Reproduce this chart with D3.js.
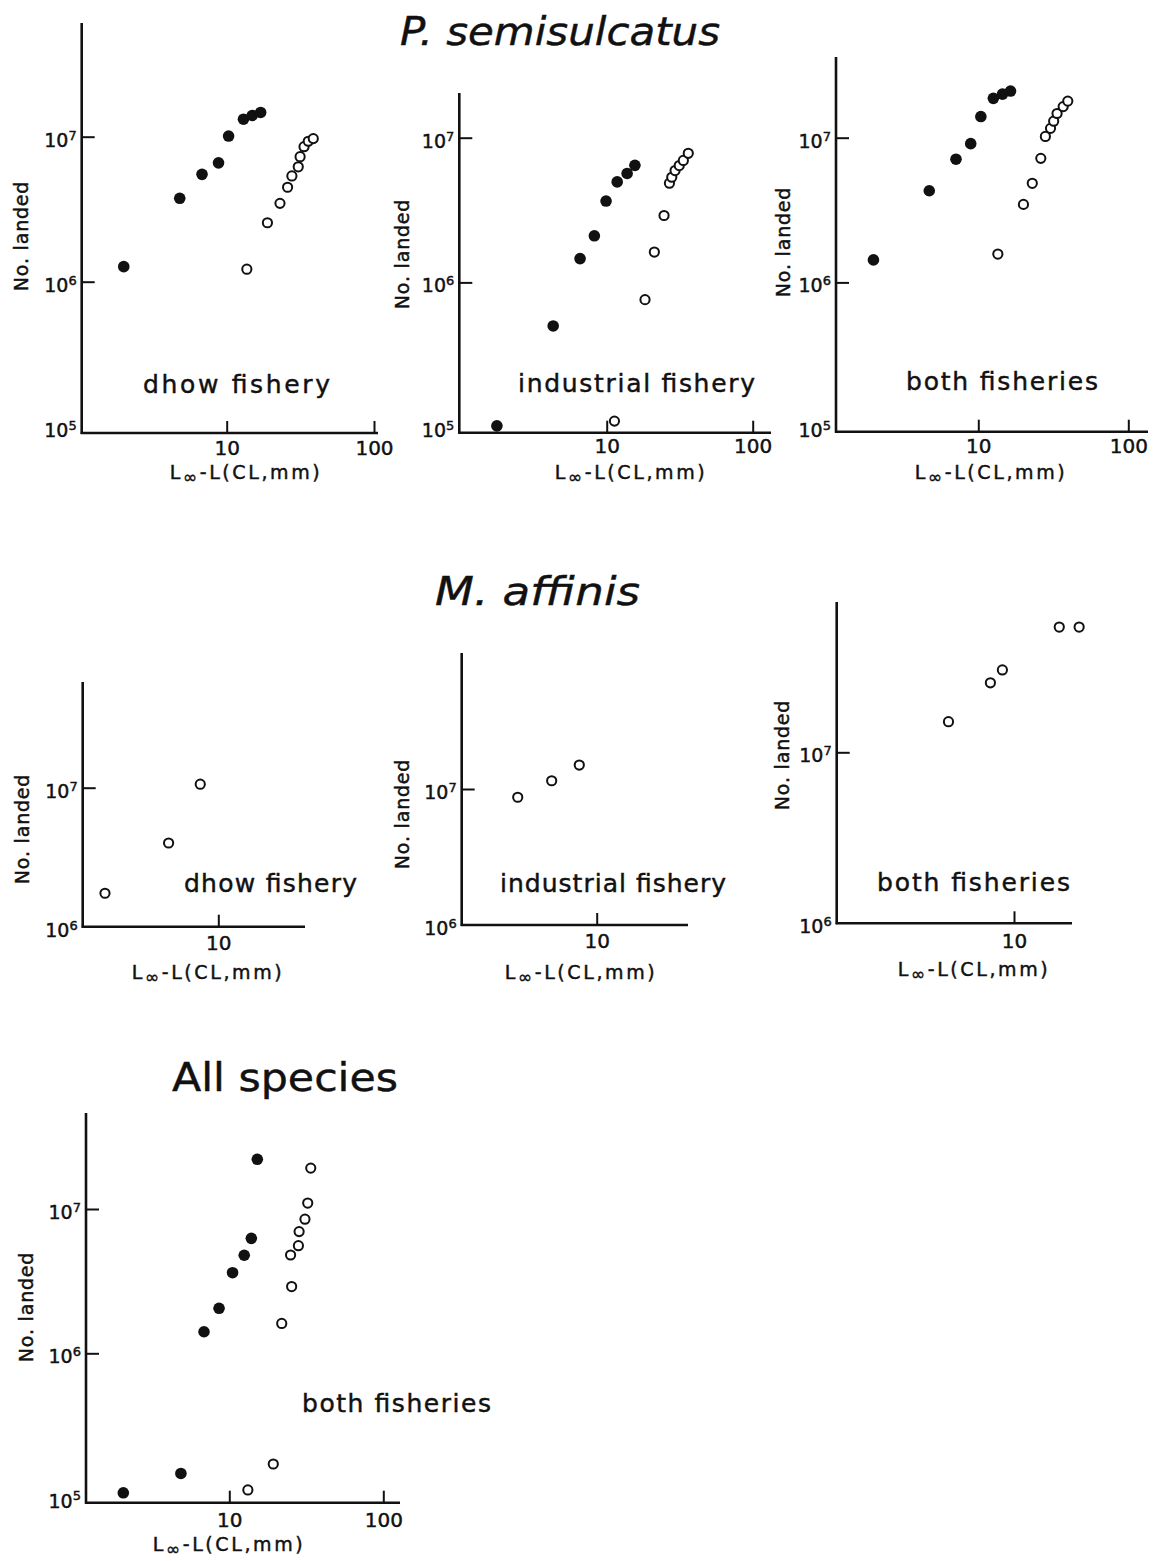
<!DOCTYPE html>
<html>
<head>
<meta charset="utf-8">
<script src="https://cdn.jsdelivr.net/npm/d3@7"></script>
<style>
  body { margin: 0; background: #fff; }
  svg { display: block; }
  text { font-family: "DejaVu Sans", sans-serif; fill: #111; stroke: #111; stroke-width: 0.45px; }
</style>
</head>
<body>
<div id="chart"></div>
<script>
// ---- data: x = L_inf - L (CL, mm), y = number landed ----
// P. semisulcatus, dhow fishery
var psDhowFilledX = [2.0, 4.8, 6.8, 8.8, 10.3, 13.0, 14.9, 17.0];
var psDhowFilledY = [1.27e6, 3.76e6, 5.5e6, 6.6e6, 1.01e7, 1.32e7, 1.4e7, 1.47e7];
var psDhowOpenX = [13.7, 18.9, 23.0, 25.9, 27.7, 30.6, 31.5, 33.5, 35.8, 38.7];
var psDhowOpenY = [1.22e6, 2.55e6, 3.47e6, 4.48e6, 5.36e6, 6.2e6, 7.28e6, 8.53e6, 9.3e6, 9.7e6];
// P. semisulcatus, industrial fishery
var psIndFilledX = [1.77, 4.3, 6.57, 8.23, 9.9, 11.8, 13.8, 15.6];
var psIndFilledY = [1.02e5, 5.0e5, 1.46e6, 2.1e6, 3.65e6, 4.95e6, 5.66e6, 6.44e6];
var psIndOpenX = [11.3, 18.3, 21.2, 24.7, 26.9, 27.9, 29.4, 31.4, 33.5, 36.2];
var psIndOpenY = [1.1e5, 7.6e5, 1.62e6, 2.9e6, 4.85e6, 5.33e6, 5.93e6, 6.42e6, 6.96e6, 7.8e6];
// P. semisulcatus, both fisheries
var psBothFilledX = [2.0, 4.71, 7.1, 8.9, 10.4, 12.6, 14.5, 16.4];
var psBothFilledY = [1.43e6, 4.3e6, 7.1e6, 9.1e6, 1.4e7, 1.87e7, 2.0e7, 2.1e7];
var psBothOpenX = [13.5, 20.0, 22.9, 26.1, 28.0, 30.3, 31.8, 33.5, 36.8, 39.5];
var psBothOpenY = [1.57e6, 3.46e6, 4.84e6, 7.2e6, 1.02e7, 1.16e7, 1.3e7, 1.47e7, 1.64e7, 1.79e7];
// M. affinis
var maDhowX = [1.46, 4.3, 7.36];
var maDhowY = [1.74e6, 4.0e6, 1.06e7];
var maIndX = [2.6, 4.64, 7.43];
var maIndY = [8.7e6, 1.15e7, 1.5e7];
var maBothX = [4.27, 7.36, 8.6, 18.0, 23.3];
var maBothY = [1.51e7, 2.55e7, 3.03e7, 5.4e7, 5.4e7];
// All species, both fisheries
var allFilledX = [2.05, 4.85, 6.85, 8.58, 10.5, 12.5, 13.9, 15.2];
var allFilledY = [1.08e5, 1.47e5, 1.41e6, 2.05e6, 3.62e6, 4.78e6, 6.26e6, 2.21e7];
var allOpenX = [13.2, 19.3, 21.9, 25.4, 25.0, 28.1, 28.4, 31.0, 32.3, 33.8];
var allOpenY = [1.13e5, 1.71e5, 1.61e6, 2.9e6, 4.8e6, 5.57e6, 6.97e6, 8.5e6, 1.1e7, 1.92e7];

// tick values
var yTicksWide = [1e5, 1e6, 1e7];
var yTicksNarrow = [1e6, 1e7];
var xTicksWide = [10, 100];
var xTicksNarrow = [10];

var titles = [
  {text: "P. semisulcatus", x: 400, y: 45, len: 320, italic: true},
  {text: "M. affinis", x: 435, y: 605, len: 205, italic: true},
  {text: "All species", x: 172, y: 1091, len: 226, italic: false}
];

function pts(xs, ys) {
  return xs.map(function(d, i) { return {x: d, y: ys[i]}; });
}

// layout of each panel (pixel positions of 10 and 10^7, decade sizes, axis extents)
var panels = [
  {x10: 226.7, dx: 147.3, y7: 136.7, dy: 145, left: 81.7, right: 378, top: 23, bottom: 433,
   yTicks: yTicksWide, xTicks: xTicksWide, xLabY: 455,
   ytX: 28, ytY: 236, xtX: 246, xtY: 479,
   label: "dhow fishery", lx: 143, ly: 393, lw: 187,
   filled: pts(psDhowFilledX, psDhowFilledY), open: pts(psDhowOpenX, psDhowOpenY)},
  {x10: 606.7, dx: 146, y7: 137.7, dy: 144.7, left: 459.3, right: 771, top: 93, bottom: 432.7,
   yTicks: yTicksWide, xTicks: xTicksWide, xLabY: 453,
   ytX: 409, ytY: 254, xtX: 631, xtY: 479,
   label: "industrial fishery", lx: 518, ly: 392, lw: 237,
   filled: pts(psIndFilledX, psIndFilledY), open: pts(psIndOpenX, psIndOpenY)},
  {x10: 978.3, dx: 150, y7: 137.7, dy: 144.7, left: 836, right: 1148, top: 57, bottom: 431.7,
   yTicks: yTicksWide, xTicks: xTicksWide, xLabY: 453,
   ytX: 790, ytY: 242, xtX: 991, xtY: 479,
   label: "both fisheries", lx: 906, ly: 390, lw: 192,
   filled: pts(psBothFilledX, psBothFilledY), open: pts(psBothOpenX, psBothOpenY)},
  {x10: 218.3, dx: 135.6, y7: 787.7, dy: 139, left: 82.7, right: 305, top: 682, bottom: 926.7,
   yTicks: yTicksNarrow, xTicks: xTicksNarrow, xLabY: 950,
   ytX: 29, ytY: 829, xtX: 208, xtY: 979,
   label: "dhow fishery", lx: 184, ly: 892, lw: 173,
   filled: [], open: pts(maDhowX, maDhowY)},
  {x10: 596.7, dx: 135, y7: 789, dy: 136, left: 461.7, right: 688, top: 653, bottom: 925,
   yTicks: yTicksNarrow, xTicks: xTicksNarrow, xLabY: 948,
   ytX: 409, ytY: 814, xtX: 581, xtY: 979,
   label: "industrial fishery", lx: 500, ly: 892, lw: 226,
   filled: [], open: pts(maIndX, maIndY)},
  {x10: 1014, dx: 177.3, y7: 752.3, dy: 171, left: 836.7, right: 1072, top: 602, bottom: 923.3,
   yTicks: yTicksNarrow, xTicks: xTicksNarrow, xLabY: 948,
   ytX: 789, ytY: 755, xtX: 974, xtY: 976,
   label: "both fisheries", lx: 877, ly: 891, lw: 193,
   filled: [], open: pts(maBothX, maBothY)},
  {x10: 229.3, dx: 154, y7: 1209, dy: 144.3, left: 86, right: 400, top: 1113, bottom: 1502.7,
   yTicks: yTicksWide, xTicks: xTicksWide, xLabY: 1527,
   ytX: 33, ytY: 1307, xtX: 229, xtY: 1551,
   label: "both fisheries", lx: 302, ly: 1412, lw: 189,
   filled: pts(allFilledX, allFilledY), open: pts(allOpenX, allOpenY)}
];

var width = 1155, height = 1561;

var svg = d3.select("#chart")
  .append("svg")
    .attr("width", width)
    .attr("height", height);

svg.append("rect").attr("width", width).attr("height", height).attr("fill", "#fff");

// headings
svg.selectAll("text.title")
  .data(titles)
  .enter()
  .append("text")
    .attr("class", "title")
    .attr("x", function(d) { return d.x; })
    .attr("y", function(d) { return d.y; })
    .attr("textLength", function(d) { return d.len; })
    .attr("lengthAdjust", "spacingAndGlyphs")
    .style("font-size", "39px")
    .style("font-style", function(d) { return d.italic ? "italic" : "normal"; })
    .text(function(d) { return d.text; });

panels.forEach(function(p) {
  var x = d3.scaleLog().domain([10, 100]).range([p.x10, p.x10 + p.dx]);
  var y = d3.scaleLog().domain([1e6, 1e7]).range([p.y7 + p.dy, p.y7]);

  var g = svg.append("g");

  // axis lines
  g.append("line")
    .attr("x1", p.left).attr("x2", p.left)
    .attr("y1", p.top).attr("y2", p.bottom + 1)
    .attr("stroke", "#111").attr("stroke-width", 2.6);
  g.append("line")
    .attr("x1", p.left - 1).attr("x2", p.right)
    .attr("y1", p.bottom).attr("y2", p.bottom)
    .attr("stroke", "#111").attr("stroke-width", 2.6);

  // y axis ticks (pointing inwards), labels as 10^n
  var yAxis = g.append("g")
    .attr("transform", "translate(" + p.left + ",0)")
    .call(d3.axisLeft(y)
      .tickValues(p.yTicks)
      .tickSizeInner(-13)
      .tickSizeOuter(0)
      .tickPadding(5)
      .tickFormat(function() { return ""; }));
  yAxis.select(".domain").remove();
  yAxis.selectAll(".tick line").attr("stroke", "#111").attr("stroke-width", 2);
  yAxis.selectAll(".tick").filter(function(d) { return d === p.yTicks[0]; })
    .select("line").remove();
  yAxis.selectAll(".tick text")
    .attr("dy", "0.5em")
    .attr("fill", "#111")
    .style("font-size", "19px")
    .each(function(d) {
      var t = d3.select(this);
      t.text("10");
      t.append("tspan")
        .attr("dy", "-0.55em")
        .style("font-size", "13px")
        .text(Math.round(Math.log10(d)));
    });

  // x axis ticks
  var xAxis = g.append("g")
    .attr("transform", "translate(0," + p.bottom + ")")
    .call(d3.axisBottom(x)
      .tickValues(p.xTicks)
      .tickSizeInner(-12)
      .tickSizeOuter(0)
      .tickFormat(d3.format("d")));
  xAxis.select(".domain").remove();
  xAxis.selectAll(".tick line").attr("stroke", "#111").attr("stroke-width", 2);
  xAxis.selectAll(".tick text")
    .attr("y", p.xLabY - p.bottom)
    .attr("dy", 0)
    .attr("fill", "#111")
    .style("font-size", "20px");

  // axis titles
  g.append("text")
    .attr("transform", "translate(" + p.ytX + "," + p.ytY + ") rotate(-90)")
    .attr("text-anchor", "middle")
    .style("font-size", "19px")
    .style("letter-spacing", "0.8px")
    .text("No. landed");

  var xt = g.append("text")
    .attr("x", p.xtX)
    .attr("y", p.xtY)
    .attr("text-anchor", "middle")
    .style("font-size", "19px")
    .style("letter-spacing", "2.6px");
  xt.append("tspan").text("L");
  xt.append("tspan").attr("dy", 4).style("font-size", "17px").text("\u221e");
  xt.append("tspan").attr("dy", -4).text("-L(CL,mm)");

  // panel label
  g.append("text")
    .attr("x", p.lx)
    .attr("y", p.ly)
    .attr("textLength", p.lw)
    .attr("lengthAdjust", "spacing")
    .style("font-size", "25px")
    .text(p.label);

  // points
  g.selectAll("circle.filled")
    .data(p.filled)
    .enter()
    .append("circle")
      .attr("class", "filled")
      .attr("cx", function(d) { return x(d.x); })
      .attr("cy", function(d) { return y(d.y); })
      .attr("r", 5.8)
      .attr("fill", "#111");

  g.selectAll("circle.open")
    .data(p.open)
    .enter()
    .append("circle")
      .attr("class", "open")
      .attr("cx", function(d) { return x(d.x); })
      .attr("cy", function(d) { return y(d.y); })
      .attr("r", 4.6)
      .attr("fill", "#fff")
      .attr("stroke", "#111")
      .attr("stroke-width", 2);
});
</script>
</body>
</html>
